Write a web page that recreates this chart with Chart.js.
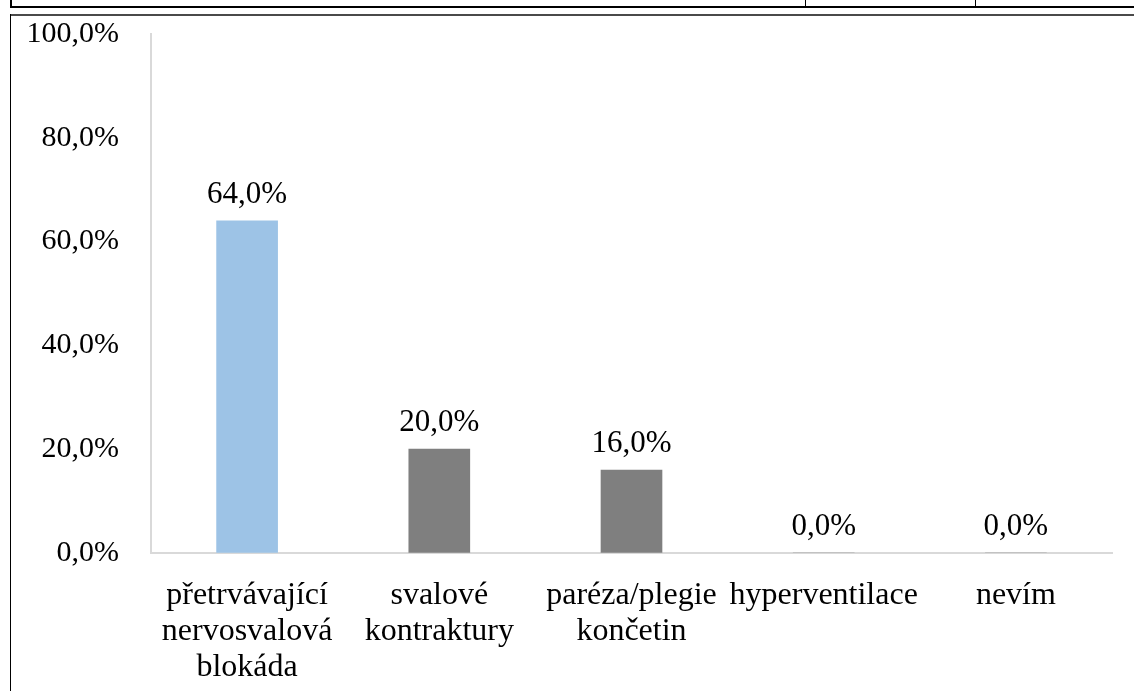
<!DOCTYPE html>
<html>
<head>
<meta charset="utf-8">
<script src="https://cdn.jsdelivr.net/npm/chart.js@4.4.1/dist/chart.umd.min.js"></script>
<style>
  html, body { margin: 0; padding: 0; background: #fff; width: 1134px; height: 691px; overflow: hidden; }
  #wrap { position: relative; width: 1134px; height: 691px; }
  .ln { position: absolute; background: #000; }
  canvas { position: absolute; left: 0; top: 0; }
</style>
</head>
<body>
<div id="wrap">
  <div class="ln" style="left:10px; top:0; width:2px; height:8px;"></div>
  <div class="ln" style="left:10px; top:6px; width:1124px; height:2px;"></div>
  <div class="ln" style="left:805px; top:0; width:1px; height:7px;"></div>
  <div class="ln" style="left:975px; top:0; width:1px; height:7px;"></div>
  <div class="ln" style="left:10px; top:14px; width:1124px; height:2px; background:#4a4a4a;"></div>
  <div class="ln" style="left:10px; top:14px; width:1px; height:677px;"></div>
  <canvas id="c" width="1134" height="691"></canvas>
</div>
<script>
const categories = [
  ["přetrvávající", "nervosvalová", "blokáda"],
  ["svalové", "kontraktury"],
  ["paréza/plegie", "končetin"],
  ["hyperventilace"],
  ["nevím"]
];
const values = [64.0, 20.0, 16.0, 0.0, 0.0];
const barColors = ["#9DC3E6", "#7F7F7F", "#7F7F7F", "#7F7F7F", "#7F7F7F"];
const yTicks = [0, 20, 40, 60, 80, 100];

const fmt = v => v.toFixed(1).replace('.', ',') + '%';
const FONT = "'Liberation Serif', 'Times New Roman', serif";

const dataLabels = {
  id: 'dataLabels',
  afterDatasetsDraw(chart) {
    const ctx = chart.ctx;
    const meta = chart.getDatasetMeta(0);
    ctx.save();
    ctx.font = "31px " + FONT;
    ctx.fillStyle = "#000";
    ctx.textAlign = "center";
    ctx.textBaseline = "alphabetic";
    meta.data.forEach((el, i) => {
      ctx.fillText(fmt(values[i]), el.x, el.y - 18);
    });
    ctx.restore();
  }
};

new Chart(document.getElementById('c'), {
  type: 'bar',
  data: {
    labels: categories,
    datasets: [{
      data: values,
      backgroundColor: barColors,
      borderWidth: 0,
      barThickness: 61
    }]
  },
  options: {
    responsive: false,
    animation: false,
    devicePixelRatio: 1,
    layout: { padding: { left: 0, right: 22, top: 34, bottom: 0 } },
    plugins: { legend: { display: false }, tooltip: { enabled: false } },
    scales: {
      x: {
        grid: { display: true, color: 'rgba(0,0,0,0)', drawTicks: false },
        border: { display: true, color: '#d9d9d9', width: 2 },
        ticks: {
          color: '#000',
          font: { family: FONT, size: 32, lineHeight: 1.125 },
          padding: 25,
          maxRotation: 0,
          autoSkip: false
        },
        afterFit(s) { s.height = 138; s.paddingLeft = 0; s.paddingRight = 0; }
      },
      y: {
        min: 0,
        max: 100,
        afterBuildTicks(s) { s.ticks = yTicks.map(v => ({ value: v })); },
        grid: { display: true, color: 'rgba(0,0,0,0)', drawTicks: false },
        border: { display: true, color: '#d9d9d9', width: 2 },
        ticks: {
          color: '#000',
          font: { family: FONT, size: 30 },
          padding: 32,
          callback: v => fmt(v)
        },
        afterFit(s) { s.width = 151; s.paddingTop = 0; s.paddingBottom = 0; }
      }
    }
  },
  plugins: [dataLabels]
});
</script>
</body>
</html>
